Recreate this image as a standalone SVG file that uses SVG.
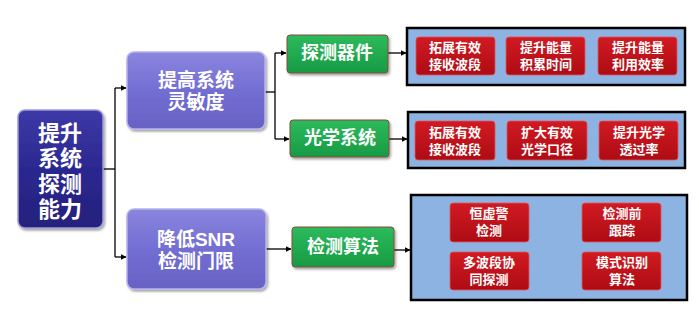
<svg xmlns="http://www.w3.org/2000/svg" width="699" height="311" viewBox="0 0 699 311">
<defs>
<linearGradient id="gRoot" x1="0" y1="0" x2="0" y2="1"><stop offset="0" stop-color="#3d39a8"/><stop offset="0.5" stop-color="#2c2890"/><stop offset="1" stop-color="#24207c"/></linearGradient>
<linearGradient id="gMid" x1="0" y1="0" x2="0" y2="1"><stop offset="0" stop-color="#8a85de"/><stop offset="0.5" stop-color="#736ed2"/><stop offset="1" stop-color="#6762c4"/></linearGradient>
<linearGradient id="gGreen" x1="0" y1="0" x2="0" y2="1"><stop offset="0" stop-color="#2cbb5c"/><stop offset="1" stop-color="#179a44"/></linearGradient>
<linearGradient id="gRed" x1="0" y1="0" x2="0" y2="1"><stop offset="0" stop-color="#d21a22"/><stop offset="1" stop-color="#ad0c14"/></linearGradient>
<marker id="arr" markerWidth="6" markerHeight="6" refX="5.5" refY="3" orient="auto" markerUnits="userSpaceOnUse"><path d="M0,0 L6,3 L0,6 Z" fill="#000"/></marker>
<filter id="sh" x="-10%" y="-10%" width="125%" height="130%"><feDropShadow dx="1.5" dy="2" stdDeviation="1.2" flood-color="#000" flood-opacity="0.35"/></filter>
</defs>
<style>
text{font-family:"Liberation Sans","Noto Sans CJK SC",sans-serif;fill:#fff;text-anchor:middle;dominant-baseline:central}
.root{fill:url(#gRoot);stroke:#9c9ad8;stroke-width:1.5}
.mid{fill:url(#gMid);stroke:#b5b2ec;stroke-width:1.5}
.green{fill:url(#gGreen);stroke:#8a4a3a;stroke-width:1}
.panel{fill:#8db3e2;stroke:#000;stroke-width:2.5}
.red{fill:url(#gRed);stroke:#e0565a;stroke-width:0.8}
.t1{font-size:22px;font-weight:700}
.t2{font-size:19px;font-weight:700}
.t3{font-size:18px;font-weight:700}
.t4{font-size:13px;font-weight:700}
.ln{fill:none;stroke:#000;stroke-width:1.3}
</style>
<g id="connectors">
<path class="ln" d="M103,169 H115"/>
<path class="ln" d="M115,88 V257"/>
<path class="ln" d="M115,88 H126" marker-end="url(#arr)"/>
<path class="ln" d="M115,257 H126" marker-end="url(#arr)"/>
<path class="ln" d="M265,92 H275"/>
<path class="ln" d="M275,53 V139"/>
<path class="ln" d="M275,53 H286" marker-end="url(#arr)"/>
<path class="ln" d="M275,139 H289" marker-end="url(#arr)"/>
<path class="ln" d="M266,249 H291" marker-end="url(#arr)"/>
<path class="ln" d="M388,53 H406" marker-end="url(#arr)"/>
<path class="ln" d="M389,139 H407" marker-end="url(#arr)"/>
<path class="ln" d="M394,250 H410" marker-end="url(#arr)"/>
</g>
<g id="root"><rect class="root" x="18" y="110" width="85" height="118" rx="7" filter="url(#sh)"/>
<text class="t1" x="60" y="133">提升</text><text class="t1" x="60" y="158">系统</text><text class="t1" x="60" y="184">探测</text><text class="t1" x="60" y="209">能力</text></g>
<g id="n-sens"><rect class="mid" x="127" y="52" width="138" height="77" rx="7" filter="url(#sh)"/>
<text class="t2" x="196" y="80">提高系统</text><text class="t2" x="196" y="102">灵敏度</text></g>
<g id="n-snr"><rect class="mid" x="127" y="209" width="139" height="80" rx="7" filter="url(#sh)"/>
<text class="t2" x="196" y="239">降低SNR</text><text class="t2" x="196" y="261">检测门限</text></g>
<g id="g-det"><rect class="green" x="287" y="35" width="101" height="38" rx="3" filter="url(#sh)"/><text class="t3" x="337" y="53">探测器件</text></g>
<g id="g-opt"><rect class="green" x="290" y="120" width="99" height="37" rx="3" filter="url(#sh)"/><text class="t3" x="340" y="138">光学系统</text></g>
<g id="g-alg"><rect class="green" x="292" y="227" width="102" height="40" rx="3" filter="url(#sh)"/><text class="t3" x="343" y="247">检测算法</text></g>
<g id="p1"><rect class="panel" x="407" y="28" width="278" height="57"/>
<rect class="red" x="416" y="37" width="79" height="38" rx="3"/><text class="t4" x="455" y="47">拓展有效</text><text class="t4" x="455" y="64">接收波段</text>
<rect class="red" x="506" y="37" width="79" height="38" rx="3"/><text class="t4" x="546" y="47">提升能量</text><text class="t4" x="546" y="64">积累时间</text>
<rect class="red" x="598" y="37" width="79" height="38" rx="3"/><text class="t4" x="638" y="47">提升能量</text><text class="t4" x="638" y="64">利用效率</text></g>
<g id="p2"><rect class="panel" x="408" y="112" width="277" height="56"/>
<rect class="red" x="415" y="121" width="80" height="39" rx="3"/><text class="t4" x="455" y="132">拓展有效</text><text class="t4" x="455" y="149">接收波段</text>
<rect class="red" x="507" y="121" width="80" height="39" rx="3"/><text class="t4" x="547" y="132">扩大有效</text><text class="t4" x="547" y="149">光学口径</text>
<rect class="red" x="599" y="121" width="79" height="39" rx="3"/><text class="t4" x="639" y="132">提升光学</text><text class="t4" x="639" y="149">透过率</text></g>
<g id="p3"><rect class="panel" x="411" y="195" width="276" height="105"/>
<rect class="red" x="450" y="203" width="79" height="39" rx="3"/><text class="t4" x="489" y="213">恒虚警</text><text class="t4" x="489" y="230">检测</text>
<rect class="red" x="582" y="203" width="79" height="39" rx="3"/><text class="t4" x="622" y="213">检测前</text><text class="t4" x="622" y="230">跟踪</text>
<rect class="red" x="450" y="252" width="79" height="38" rx="3"/><text class="t4" x="489" y="262">多波段协</text><text class="t4" x="489" y="279">同探测</text>
<rect class="red" x="582" y="252" width="79" height="38" rx="3"/><text class="t4" x="622" y="262">模式识别</text><text class="t4" x="622" y="279">算法</text></g>
</svg>
